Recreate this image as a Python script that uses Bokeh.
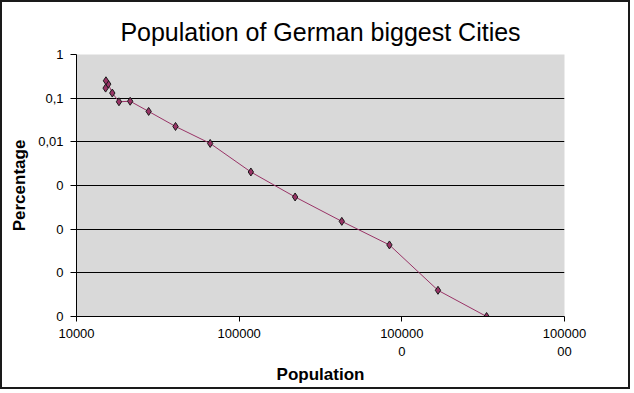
from bokeh.plotting import figure
from bokeh.models import FixedTicker, Range1d
from bokeh.embed import file_html
from bokeh.resources import INLINE

# Data (population, share)
population = [3319000, 1668000, 839000, 427500, 220800, 118000, 66340, 40620,
              27770, 21380, 18240, 16600, 15670, 15170, 15100]
percentage = [1.0e-6, 3.98e-6, 4.35e-5, 1.51e-4, 5.46e-4, 2.04e-3, 9.19e-3,
              2.25e-2, 4.97e-2, 8.5e-2, 8.27e-2, 0.131, 0.21, 0.25, 0.17]

x_ticks = [1e4, 1e5, 1e6, 1e7]
x_tick_labels = ["10000", "100000", "100000\n0", "100000\n00"]
y_ticks = [1e-6, 1e-5, 1e-4, 1e-3, 1e-2, 1e-1, 1.0]
y_tick_labels = ["0", "0", "0", "0", "0,01", "0,1", "1"]

FONT = "Liberation Sans"

p = figure(width=630, height=389, x_axis_type="log", y_axis_type="log",
           output_backend="svg", toolbar_location=None,
           x_range=Range1d(1e4, 1e7), y_range=Range1d(1e-6, 1.0),
           title="Population of German biggest Cities",
           min_border_left=74, min_border_right=68,
           min_border_top=52, min_border_bottom=75)
p.styles = {"border": "2px solid #1a1a1a"}

p.title.align = "center"
p.title.vertical_align = "top"
p.title.text_font = FONT
p.title.text_font_size = "25px"
p.title.text_font_style = "normal"
p.title.text_color = "black"
p.title.standoff = 14

p.background_fill_color = "#d9d9d9"
p.border_fill_color = "white"
p.outline_line_color = None

p.xgrid.grid_line_color = None
p.ygrid.grid_line_color = "black"
p.ygrid.grid_line_width = 1
p.ygrid.ticker = FixedTicker(ticks=y_ticks)

p.xaxis.ticker = FixedTicker(ticks=x_ticks)
p.yaxis.ticker = FixedTicker(ticks=y_ticks)
p.xaxis.major_label_overrides = {t: l for t, l in zip(x_ticks, x_tick_labels)}
p.yaxis.major_label_overrides = {t: l for t, l in zip(y_ticks, y_tick_labels)}

for ax in (p.xaxis, p.yaxis):
    ax.axis_line_color = "black"
    ax.major_tick_line_color = "black"
    ax.major_tick_out = 5
    ax.major_tick_in = 0
    ax.minor_tick_line_color = None
    ax.major_label_text_font = FONT
    ax.major_label_text_font_size = "13px"
    ax.major_label_text_color = "black"
    ax.axis_label_text_font = FONT
    ax.axis_label_text_font_size = "17px"
    ax.axis_label_text_font_style = "bold"
    ax.axis_label_text_color = "black"

p.xaxis.axis_label = "Population"
p.yaxis.axis_label = "Percentage"
p.yaxis.major_tick_out = 6
p.xaxis.major_label_standoff = 4
p.yaxis.major_label_standoff = 7
p.xaxis.axis_label_standoff = 3
p.yaxis.axis_label_standoff = 6

p.line(population, percentage, line_color="#993366", line_width=1)
p.scatter(population, percentage, marker="diamond", size=8,
          fill_color="#993366", line_color="#1a1a1a", line_width=1)

open("out.html", "w").write(file_html(p, INLINE))
